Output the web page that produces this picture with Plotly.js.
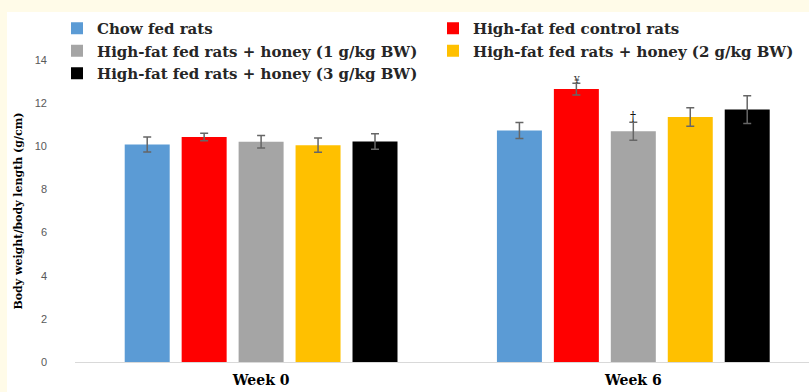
<!DOCTYPE html>
<html>
<head>
<meta charset="utf-8">
<script src="https://cdn.plot.ly/plotly-3.0.1.min.js"></script>
<style>
  html, body { margin: 0; padding: 0; background: #fffbe8; width: 809px; height: 392px; overflow: hidden; }
  #chart { position: absolute; left: 7px; top: 12px; width: 802px; height: 380px; }
</style>
</head>
<body>
<div id="chart"></div>
<script>
const categories = ["Week 0", "Week 6"];
const seriesNames = [
  "Chow fed rats",
  "High-fat fed control rats",
  "High-fat fed rats + honey (1 g/kg BW)",
  "High-fat fed rats + honey (2 g/kg BW)",
  "High-fat fed rats + honey (3 g/kg BW)"
];
const seriesColors = ["#5b9bd5", "#ff0000", "#a5a5a5", "#ffc000", "#000000"];
const chowValues = [10.08, 10.73];
const hfControlValues = [10.43, 12.65];
const honey1Values = [10.21, 10.70];
const honey2Values = [10.05, 11.36];
const honey3Values = [10.22, 11.70];
const chowErr = [0.35, 0.37];
const hfControlErr = [0.17, 0.27];
const honey1Err = [0.29, 0.42];
const honey2Err = [0.33, 0.43];
const honey3Err = [0.36, 0.64];
const markLabels = ["¥", "†"];

const values = [chowValues, hfControlValues, honey1Values, honey2Values, honey3Values];
const errs = [chowErr, hfControlErr, honey1Err, honey2Err, honey3Err];

const serif = "DejaVu Serif, Liberation Serif, serif";

const traces = seriesNames.map((name, i) => ({
  type: "bar",
  name: name,
  x: categories,
  y: values[i],
  marker: { color: seriesColors[i] },
  error_y: { type: "data", array: errs[i], visible: true, color: "#666666", thickness: 1.5, width: 4 },
  hoverinfo: "x+y+name"
}));

const bargap = 0.235;
const slot = (1 - bargap) / 5;

const layout = {
  width: 802,
  height: 380,
  margin: { l: 68, r: 0, t: 48, b: 30 },
  paper_bgcolor: "#ffffff",
  plot_bgcolor: "#ffffff",
  barmode: "group",
  bargap: bargap,
  bargroupgap: 0.21,
  showlegend: true,
  legend: {
    orientation: "h",
    x: -0.001,
    xanchor: "left",
    y: 1.16,
    yanchor: "top",
    entrywidth: 331,
    font: { family: serif, size: 15, color: "#262626", weight: "bold" },
    bgcolor: "rgba(0,0,0,0)",
    traceorder: "normal"
  },
  xaxis: {
    type: "category",
    range: [-0.5, 1.472],
    showline: true,
    linecolor: "#d9d9d9",
    linewidth: 1,
    ticks: "",
    tickfont: { family: serif, size: 14, color: "#000000", weight: "bold" },
    ticklabelstandoff: 5,
    showgrid: false,
    zeroline: false
  },
  yaxis: {
    range: [0, 14],
    tickvals: [0, 2, 4, 6, 8, 10, 12, 14],
    ticks: "",
    showgrid: false,
    zeroline: false,
    showline: false,
    tickfont: { family: "Liberation Sans, Arial, sans-serif", size: 11, color: "#595959" },
    ticklabelstandoff: 27,
    title: { text: "Body weight/body length (g/cm)", font: { family: serif, size: 11, color: "#000000", weight: "bold" }, standoff: 9 }
  },
  annotations: [
    { x: 1 - slot, y: hfControlValues[1] + hfControlErr[1], xref: "x", yref: "y", text: markLabels[0], showarrow: false, yanchor: "bottom", yshift: -4, font: { family: serif, size: 9, color: "#333333" } },
    { x: 1, y: honey1Values[1] + honey1Err[1], xref: "x", yref: "y", text: markLabels[1], showarrow: false, yanchor: "bottom", yshift: -4, font: { family: serif, size: 12, color: "#000000" } }
  ]
};

Plotly.newPlot("chart", traces, layout, { displayModeBar: false, staticPlot: true });
</script>
</body>
</html>
